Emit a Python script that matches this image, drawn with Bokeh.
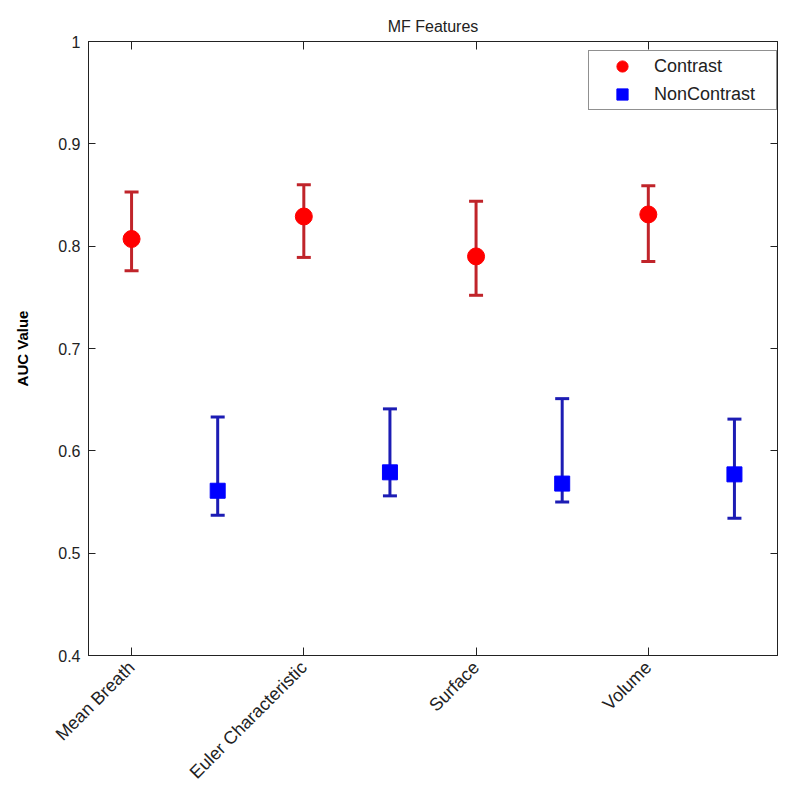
import math
from bokeh.plotting import figure
from bokeh.models import (ColumnDataSource, Whisker, TeeHead, FixedTicker, LinearAxis,
                          Legend, LegendItem, Range1d)
from bokeh.embed import file_html
from bokeh.resources import INLINE

# ---- data ----
features = ["Mean Breath", "Euler Characteristic", "Surface", "Volume"]
contrast_x = [1, 3, 5, 7]
contrast_auc = [0.807, 0.829, 0.790, 0.831]
contrast_lower = [0.776, 0.789, 0.752, 0.785]
contrast_upper = [0.853, 0.860, 0.844, 0.859]

noncontrast_x = [2, 4, 6, 8]
noncontrast_auc = [0.561, 0.579, 0.568, 0.577]
noncontrast_lower = [0.537, 0.556, 0.550, 0.534]
noncontrast_upper = [0.633, 0.641, 0.651, 0.631]

y_ticks = [0.4, 0.5, 0.6, 0.7, 0.8, 0.9, 1.0]
y_tick_labels = ["0.4", "0.5", "0.6", "0.7", "0.8", "0.9", "1"]

FONT = "Liberation Sans"
RED = "#ff0000"
RED_BAR = "#c0242a"
BLUE = "#0000ff"
BLUE_BAR = "#1c1cb4"
INK = "#222222"

src_c = ColumnDataSource(dict(x=contrast_x, y=contrast_auc, lo=contrast_lower, hi=contrast_upper))
src_n = ColumnDataSource(dict(x=noncontrast_x, y=noncontrast_auc, lo=noncontrast_lower, hi=noncontrast_upper))

p = figure(width=784, height=792, output_backend="svg", toolbar_location=None,
           x_range=Range1d(0.5, 8.5), y_range=Range1d(0.4, 1.0),
           min_border_left=88, min_border_right=7, min_border_top=41, min_border_bottom=137,
           title="MF Features")
p.background_fill_color = "white"
p.border_fill_color = "white"
p.outline_line_color = INK
p.outline_line_width = 1
p.grid.visible = False

p.title.align = "center"
p.title.text_font = FONT
p.title.text_font_size = "16px"
p.title.text_font_style = "normal"
p.title.text_color = INK
p.title.standoff = 14

# bottom axis
xa = p.xaxis[0]
xa.ticker = FixedTicker(ticks=contrast_x)
xa.major_label_overrides = {x: f for x, f in zip(contrast_x, features)}
xa.major_label_orientation = math.pi / 4
xa.major_label_text_font = FONT
xa.major_label_text_font_size = "18px"
xa.major_label_text_color = INK
xa.major_label_standoff = 9
xa.major_tick_in = 8
xa.major_tick_out = 0
xa.minor_tick_line_color = None
xa.axis_line_color = INK
xa.major_tick_line_color = INK

# left axis
ya = p.yaxis[0]
ya.ticker = FixedTicker(ticks=y_ticks)
ya.major_label_overrides = {t: l for t, l in zip(y_ticks, y_tick_labels)}
ya.major_label_text_font = FONT
ya.major_label_text_font_size = "16px"
ya.major_label_text_color = INK
ya.major_label_standoff = 8
ya.major_tick_in = 7
ya.major_tick_out = 0
ya.minor_tick_line_color = None
ya.axis_line_color = INK
ya.major_tick_line_color = INK
ya.axis_label = "AUC Value"
ya.axis_label_text_font = FONT
ya.axis_label_text_font_size = "15px"
ya.axis_label_text_font_style = "bold"
ya.axis_label_text_color = "black"
ya.axis_label_standoff = 24

# top and right axes: inward ticks only, no labels
top = LinearAxis(ticker=FixedTicker(ticks=contrast_x),
                 major_label_overrides={x: "" for x in contrast_x},
                 major_tick_in=8, major_tick_out=0, minor_tick_line_color=None,
                 axis_line_color=INK, major_tick_line_color=INK,
                 major_label_standoff=0)
p.add_layout(top, "above")
right = LinearAxis(ticker=FixedTicker(ticks=y_ticks),
                   major_label_overrides={t: "" for t in y_ticks},
                   major_tick_in=7, major_tick_out=0, minor_tick_line_color=None,
                   axis_line_color=INK, major_tick_line_color=INK,
                   major_label_standoff=0)
p.add_layout(right, "right")

# error bars
for src, col in ((src_c, RED_BAR), (src_n, BLUE_BAR)):
    w = Whisker(source=src, base="x", lower="lo", upper="hi", line_color=col, line_width=3,
                upper_head=TeeHead(size=14, line_color=col, line_width=3),
                lower_head=TeeHead(size=14, line_color=col, line_width=3))
    p.add_layout(w)

rc = p.scatter("x", "y", source=src_c, marker="circle", size=17, fill_color=RED,
               line_color=RED, line_width=1)
rn = p.scatter("x", "y", source=src_n, marker="square", size=15, fill_color=BLUE,
               line_color=BLUE, line_width=1)

legend = Legend(items=[LegendItem(label="Contrast", renderers=[rc]),
                       LegendItem(label="NonContrast", renderers=[rn])],
                location=(500, 545), padding=1, spacing=0,
                glyph_height=28, glyph_width=64, label_standoff=0, label_width=121,
                label_height=20,
                label_text_font=FONT, label_text_font_size="18px", label_text_color=INK,
                border_line_color=INK, border_line_width=1,
                background_fill_color="white", background_fill_alpha=1.0)
p.add_layout(legend, "center")

open("out.html", "w").write(file_html(p, INLINE))
